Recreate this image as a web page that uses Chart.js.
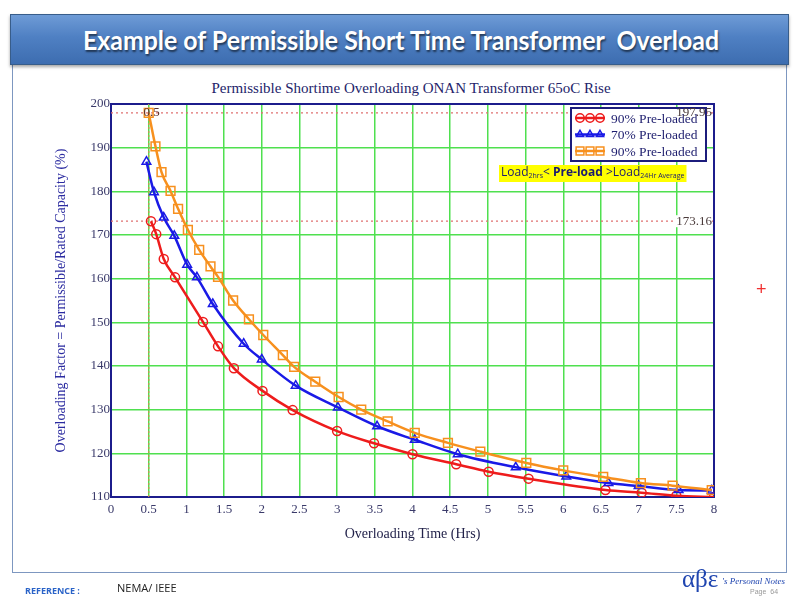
<!DOCTYPE html>
<html>
<head>
<meta charset="utf-8">
<script src="https://cdn.jsdelivr.net/npm/chart.js@4"></script>
<style>
  html,body{margin:0;padding:0;background:#fff;}
  #wrap{position:relative;width:800px;height:600px;overflow:hidden;background:#fff;}
  #frame{position:absolute;left:12px;top:62px;width:773px;height:510px;border:1px solid #7d97c0;border-top:none;}
  #bar{position:absolute;left:10px;top:14px;width:777px;height:49px;
       background:linear-gradient(#6e9bd6 0%,#4f80c3 45%,#3d6db0 100%);
       border:1px solid #385d8a;box-shadow:0 2px 3px rgba(0,0,0,0.35);}
  #barText{position:absolute;left:0;top:8px;white-space:nowrap;color:#fff;font-family:Lato,"Open Sans",sans-serif;
       font-weight:bold;font-size:27px;text-shadow:1px 2px 2px rgba(0,0,0,0.55);transform-origin:0 0;}
  #ctitle{position:absolute;left:0;width:822px;top:80px;text-align:center;font-family:"Liberation Serif",serif;
       font-size:15px;color:#24246a;}
  canvas{position:absolute;left:0;top:0;}
  #ref{position:absolute;left:25px;top:584px;font-family:"Open Sans",sans-serif;font-weight:bold;font-size:9px;color:#2a63c8;}
  #nema{position:absolute;left:117px;top:580px;font-family:"Open Sans",sans-serif;font-size:11px;color:#222;}
  #logo{position:absolute;left:682px;top:565px;font-family:"Liberation Serif",serif;font-size:25px;color:#1f45b0;}
  #pn{position:absolute;left:722px;top:576px;font-family:"Liberation Serif",serif;font-style:italic;font-size:9px;color:#1f45b0;}
  #pg{position:absolute;left:750px;top:588px;font-family:"Liberation Sans",sans-serif;font-size:7px;color:#999;}
  #plus{position:absolute;left:756px;top:279px;font-family:"Liberation Sans",sans-serif;font-size:18px;color:#f03030;}
</style>
</head>
<body>
<div id="wrap">
  <div id="frame"></div>
  <div id="bar"><span id="barText">Example of Permissible Short Time Transformer&nbsp; Overload</span></div>
  <div id="ctitle">Permissible Shortime Overloading ONAN Transformer 65oC Rise</div>
  <canvas id="c" width="800" height="600"></canvas>
  <div id="plus">+</div>
  <div id="ref">REFERENCE :</div>
  <div id="nema">NEMA/ IEEE</div>
  <div id="logo">αβε</div>
  <div id="pn">'s Personal Notes</div>
  <div id="pg">Page&nbsp;&nbsp;64</div>
</div>
<script>
// ---- Data ----
const red90X = [0.53,0.6,0.7,0.85,1.22,1.42,1.63,2.01,2.41,3.0,3.49,4.0,4.58,5.01,5.54,6.56,7.04,7.5,8.0];
const red90Y = [173.16,170.2,164.5,160.3,150.1,144.5,139.5,134.3,129.9,125.1,122.3,119.8,117.5,115.8,114.2,111.6,111.0,110.3,110.0];

const blue70X = [0.47,0.57,0.70,0.84,1.01,1.14,1.35,1.76,2.0,2.45,3.01,3.53,4.03,4.6,5.37,6.04,6.6,7.0,7.53,7.97];
const blue70Y = [186.8,179.8,174.0,169.8,163.2,160.3,154.2,145.1,141.5,135.5,130.5,126.2,123.1,119.8,116.8,114.7,113.2,112.5,111.6,111.5];

const orange90X = [0.5,0.59,0.67,0.79,0.89,1.02,1.17,1.32,1.42,1.62,1.83,2.02,2.28,2.43,2.71,3.02,3.32,3.67,4.03,4.47,4.9,5.51,6.0,6.53,7.03,7.45,7.97];
const orange90Y = [197.95,190.3,184.4,180.1,176.0,171.2,166.6,162.8,160.4,155.0,150.7,147.1,142.5,139.8,136.4,132.9,130.0,127.3,124.7,122.4,120.4,117.8,116.1,114.6,113.2,112.6,111.6];

const refLevelsY = [197.95, 173.16];
const refLevelLabels = ["197.95", "173.16"];
const refTimeX = 0.5;
const refTimeLabel = "0.5";

const seriesNames = ["90% Pre-loaded", "70% Pre-loaded", "90% Pre-loaded"];
const xRange = [0, 8];
const yRange = [110, 200];

// fit title bar text
(function(){
  const t = document.getElementById('barText');
  const w = t.getBoundingClientRect().width;
  const target = 636;
  t.style.transform = 'scaleX(' + (target / w) + ')';
  t.style.left = '72px';
})();

const zip = (xs, ys) => xs.map((x, i) => ({x: x, y: ys[i]}));

const colors = ['#ee1c1c', '#1a1ae6', '#f7901e'];
const styles = ['circle', 'triangle', 'rect'];
const radii = [4.5, 5, 6.2];

const seriesDs = [zip(red90X, red90Y), zip(blue70X, blue70Y), zip(orange90X, orange90Y)].map((d, i) => ({
  label: seriesNames[i],
  data: d,
  showLine: true,
  borderColor: colors[i],
  borderWidth: 2.5,
  pointStyle: styles[i],
  pointRadius: radii[i],
  pointBorderWidth: 1.5,
  pointBorderColor: colors[i],
  pointBackgroundColor: 'rgba(255,255,255,0)',
  cubicInterpolationMode: 'monotone',
  order: 3 - i
}));

const refDs = refLevelsY.map(v => ({
  data: [{x: xRange[0], y: v}, {x: xRange[1], y: v}],
  showLine: true, borderColor: '#e07070', borderWidth: 1.2, borderDash: [2, 3],
  pointRadius: 0, order: 10
}));
refDs.push({
  data: [{x: refTimeX, y: yRange[0]}, {x: refTimeX, y: yRange[1]}],
  showLine: true, borderColor: '#c89050', borderWidth: 1.2, borderDash: [2, 2],
  pointRadius: 0, order: 10
});

function drawMarker(ctx, style, x, y, r, color) {
  ctx.save();
  ctx.strokeStyle = color; ctx.lineWidth = 1.5;
  ctx.beginPath();
  if (style === 'circle') ctx.arc(x, y, r, 0, Math.PI * 2);
  else if (style === 'triangle') {
    ctx.moveTo(x, y - r); ctx.lineTo(x + r * 0.866, y + r * 0.5); ctx.lineTo(x - r * 0.866, y + r * 0.5); ctx.closePath();
  } else { const s = r * Math.SQRT1_2; ctx.rect(x - s, y - s, 2 * s, 2 * s); }
  ctx.stroke();
  ctx.restore();
}

const overlay = {
  id: 'overlay',
  beforeDatasetsDraw(chart) {
    const {ctx, chartArea: a} = chart;
    ctx.save();
    ctx.strokeStyle = '#1c1c8c'; ctx.lineWidth = 2;
    ctx.strokeRect(a.left, a.top, a.right - a.left, a.bottom - a.top);
    ctx.restore();
  },
  afterDatasetsDraw(chart) {
    const {ctx, chartArea: a, scales} = chart;
    // legend
    const bx = a.right - 143, by = a.top + 4, bw = 135, bh = 53;
    ctx.save();
    ctx.fillStyle = '#fff';
    ctx.fillRect(bx, by, bw, bh);
    ctx.strokeStyle = '#1c1c7c'; ctx.lineWidth = 2;
    ctx.strokeRect(bx, by, bw, bh);
    ctx.font = '13.5px "Liberation Serif", serif';
    ctx.textBaseline = 'middle';
    for (let i = 0; i < 3; i++) {
      const yy = by + 10 + i * 16.5;
      ctx.strokeStyle = colors[i]; ctx.lineWidth = 2.5;
      ctx.beginPath(); ctx.moveTo(bx + 4, yy); ctx.lineTo(bx + 34, yy); ctx.stroke();
      for (let k = 0; k < 3; k++) drawMarker(ctx, styles[i], bx + 9 + k * 10, yy, i === 2 ? 5.5 : 4.2, colors[i]);
      ctx.fillStyle = '#1e1e6e';
      ctx.fillText(seriesNames[i], bx + 40, yy + 1);
    }
    // note box
    const nx = a.left + 390, ny = a.top + 61;
    const parts = [['Load', 12, false, 0], ['2hrs', 7, false, 3], ['< ', 12, false, 0], ['Pre-load', 12, true, 0], [' >Load', 12, false, 0], ['24Hr Average', 7, false, 3]];
    let tw = 0;
    parts.forEach(p => { ctx.font = (p[2] ? 'bold ' : '') + p[1] + 'px "Open Sans", sans-serif'; tw += ctx.measureText(p[0]).width; });
    ctx.fillStyle = '#ffff00';
    ctx.fillRect(nx - 2, ny, tw + 4, 17);
    let cx = nx;
    parts.forEach(p => {
      ctx.font = (p[2] ? 'bold ' : '') + p[1] + 'px "Open Sans", sans-serif';
      ctx.fillStyle = '#1a1a70';
      ctx.fillText(p[0], cx, ny + 8 + p[3]);
      cx += ctx.measureText(p[0]).width;
    });
    // reference labels
    ctx.font = '13px "Liberation Serif", serif';
    ctx.textAlign = 'right';
    refLevelsY.forEach((v, i) => {
      const py = scales.y.getPixelForValue(v);
      const w = ctx.measureText(refLevelLabels[i]).width;
      if (i > 0) { ctx.fillStyle = '#fff'; ctx.fillRect(a.right - w - 5, py - 6, w + 3, 12); }
      ctx.fillStyle = '#4a3a3a';
      ctx.fillText(refLevelLabels[i], a.right - 2, py);
    });
    ctx.textAlign = 'center';
    ctx.fillStyle = '#5a3030';
    ctx.fillText(refTimeLabel, scales.x.getPixelForValue(refTimeX) + 3, scales.y.getPixelForValue(yRange[1]) + 9);
    ctx.restore();
  }
};

new Chart(document.getElementById('c'), {
  type: 'scatter',
  data: {datasets: seriesDs.concat(refDs)},
  options: {
    responsive: false, animation: false,
    layout: {padding: {left: 50, top: 104, right: 86, bottom: 56}},
    plugins: {legend: {display: false}, tooltip: {enabled: false}, title: {display: false}},
    scales: {
      x: {
        type: 'linear', min: xRange[0], max: xRange[1],
        afterFit(s) { s.height = 47; },
        ticks: {stepSize: 0.5, autoSkip: false, maxRotation: 0, padding: 5,
                color: '#3a3a6a', font: {family: '"Liberation Serif", serif', size: 13},
                callback: v => String(v)},
        grid: {color: '#4fe04f', lineWidth: 1.5, drawTicks: false},
        border: {color: '#1c1c8c', width: 2},
        title: {display: true, text: 'Overloading Time (Hrs)', color: '#22224a',
                font: {family: '"Liberation Serif", serif', size: 14}, padding: {top: 0, bottom: 1}}
      },
      y: {
        type: 'linear', min: yRange[0], max: yRange[1],
        afterFit(s) { s.width = 61; },
        ticks: {stepSize: 10, padding: 1, color: '#3a3a6a', font: {family: '"Liberation Serif", serif', size: 13}},
        grid: {color: '#4fe04f', lineWidth: 1.5, drawTicks: false},
        border: {color: '#1c1c8c', width: 2},
        title: {display: true, text: 'Overloading Factor = Permissible/Rated Capacity (%)', color: '#2b2ba0',
                font: {family: '"Liberation Serif", serif', size: 14}, padding: {top: 3, bottom: 0}}
      }
    }
  },
  plugins: [overlay]
});
</script>
</body>
</html>
